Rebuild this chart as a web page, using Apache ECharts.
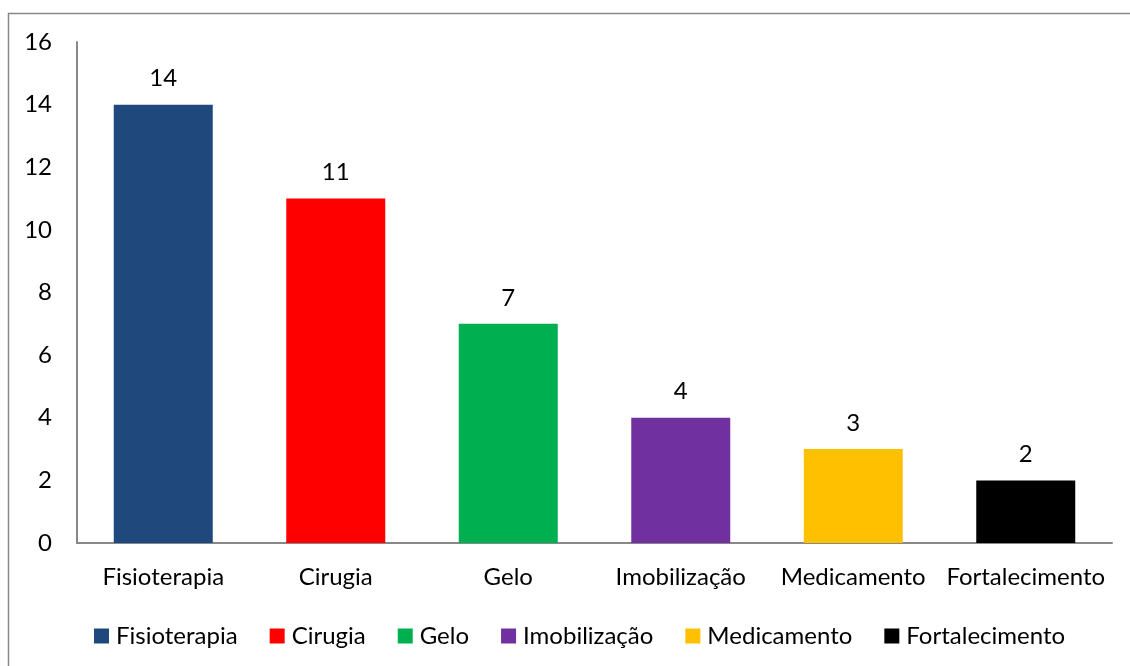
<!DOCTYPE html>
<html>
<head>
<meta charset="utf-8">
<script src="https://cdn.jsdelivr.net/npm/echarts@6/dist/echarts.min.js"></script>
<style>html,body{margin:0;padding:0;background:#fff;}#c{width:1130px;height:666px;}</style>
</head>
<body>
<div id="c"></div>
<script>
const categories = ['Fisioterapia', 'Cirugia', 'Gelo', 'Imobilização', 'Medicamento', 'Fortalecimento'];
const values = [14, 11, 7, 4, 3, 2];
const colors = ['#1F497D', '#FF0000', '#00B050', '#7030A0', '#FFC000', '#000000'];
const yTicks = { min: 0, max: 16, interval: 2 };

const font = 'Lato, "Open Sans", sans-serif';
const series = categories.map((name, i) => ({
  name: name,
  type: 'bar',
  data: categories.map((c, j) => j === i ? values[i] : '-'),
  barWidth: 99,
  barGap: '-100%',
  itemStyle: { color: colors[i] },
  label: { show: true, position: 'top', distance: 14, color: '#000', fontSize: 24, fontFamily: font },
  animation: false
}));

const chart = echarts.init(document.getElementById('c'));
chart.setOption({
  animation: false,
  color: colors,
  grid: { left: 77, right: 18, top: 42, bottom: 123 },
  graphic: [{ type: 'rect', shape: { x: 8.5, y: 13.5, width: 1200, height: 700 }, style: { fill: 'none', stroke: '#888', lineWidth: 1.5 }, silent: true }],
  legend: {
    data: categories,
    left: 89, top: 619,
    itemWidth: 15, itemHeight: 15, itemGap: 32,
    icon: 'rect',
    textStyle: { fontSize: 24, color: '#000', fontFamily: font, padding: [0, 0, 0, 2] }
  },
  xAxis: {
    type: 'category',
    data: categories,
    axisLine: { lineStyle: { color: '#888', width: 2 } },
    axisTick: { show: false },
    axisLabel: { color: '#000', fontSize: 24, fontFamily: font, margin: 22, interval: 0 }
  },
  yAxis: {
    type: 'value',
    min: yTicks.min, max: yTicks.max, interval: yTicks.interval,
    axisLine: { show: true, lineStyle: { color: '#888', width: 2 } },
    axisTick: { show: false },
    splitLine: { show: false },
    axisLabel: { color: '#000', fontSize: 24, fontFamily: font, margin: 25 }
  },
  series: series
});
</script>
</body>
</html>
